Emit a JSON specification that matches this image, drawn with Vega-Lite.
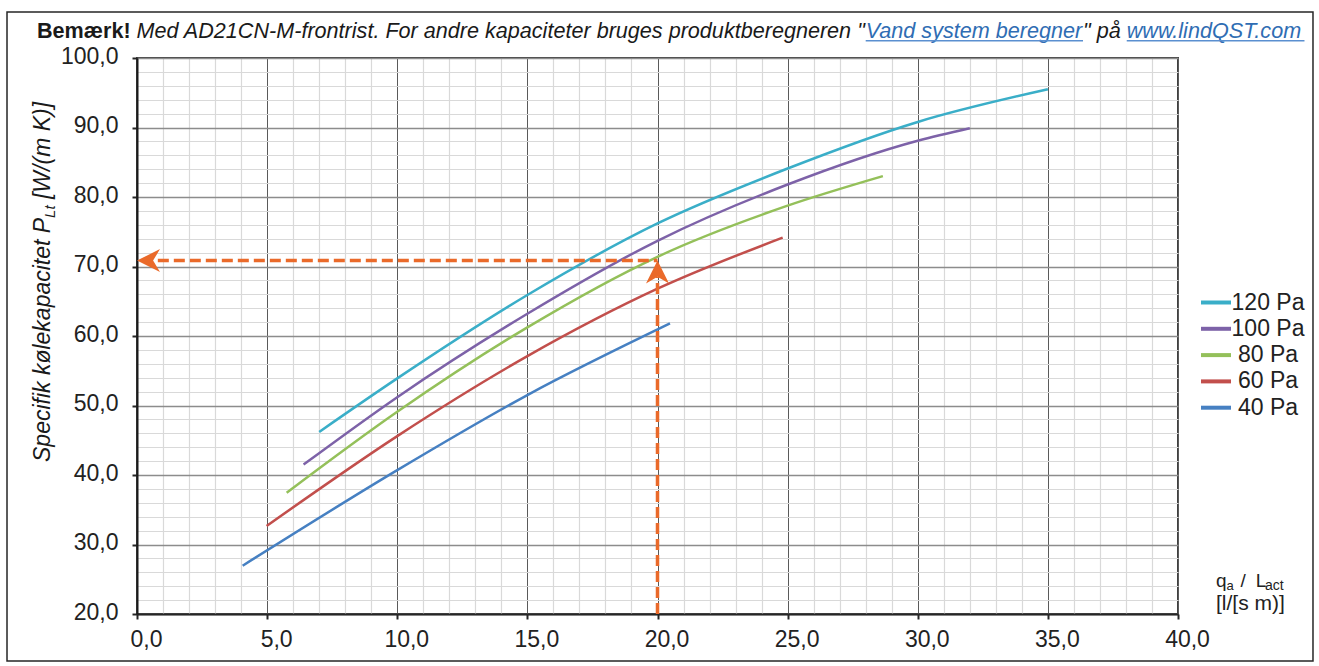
{
  "$schema": "https://vega.github.io/schema/vega-lite/v6.json",
  "width": 1041,
  "height": 556,
  "autosize": {"type": "none"},
  "padding": {"left": 137, "top": 58, "right": 141, "bottom": 52},
  "background": "white",
  "config": {
    "font": "Liberation Sans",
    "view": {"stroke": "#404040", "strokeWidth": 2}
  },
  "resolve": {"axis": {"x": "independent", "y": "independent"}},
  "datasets": {
    "one": [{}],
    "curves": [
      {"series": "120 Pa", "q": 7.0, "p": 46.2},
      {"series": "120 Pa", "q": 10, "p": 53.9},
      {"series": "120 Pa", "q": 15, "p": 65.9},
      {"series": "120 Pa", "q": 20, "p": 76.2},
      {"series": "120 Pa", "q": 25, "p": 84.1},
      {"series": "120 Pa", "q": 30, "p": 90.8},
      {"series": "120 Pa", "q": 35, "p": 95.5},
      {"series": "100 Pa", "q": 6.4, "p": 41.5},
      {"series": "100 Pa", "q": 10, "p": 51.2},
      {"series": "100 Pa", "q": 15, "p": 63.2},
      {"series": "100 Pa", "q": 20, "p": 73.7},
      {"series": "100 Pa", "q": 25, "p": 81.8},
      {"series": "100 Pa", "q": 30, "p": 88.1},
      {"series": "100 Pa", "q": 32, "p": 89.9},
      {"series": "80 Pa", "q": 5.75, "p": 37.45},
      {"series": "80 Pa", "q": 10, "p": 49.1},
      {"series": "80 Pa", "q": 15, "p": 61.25},
      {"series": "80 Pa", "q": 20, "p": 71.4},
      {"series": "80 Pa", "q": 25, "p": 78.75},
      {"series": "80 Pa", "q": 28.66, "p": 83.0},
      {"series": "60 Pa", "q": 4.98, "p": 32.66},
      {"series": "60 Pa", "q": 10, "p": 45.6},
      {"series": "60 Pa", "q": 15, "p": 57.1},
      {"series": "60 Pa", "q": 20, "p": 66.8},
      {"series": "60 Pa", "q": 24.81, "p": 74.15},
      {"series": "40 Pa", "q": 4.06, "p": 26.95},
      {"series": "40 Pa", "q": 10, "p": 40.7},
      {"series": "40 Pa", "q": 15, "p": 51.5},
      {"series": "40 Pa", "q": 20.48, "p": 61.8}
    ]
  },
  "layer": [
    {
      "data": {"name": "curves"},
      "mark": {"type": "line", "interpolate": "monotone", "strokeWidth": 2.5},
      "encoding": {
        "x": {
          "field": "q", "type": "quantitative",
          "scale": {"domain": [0, 40], "nice": false, "zero": false},
          "axis": {
            "title": null,
            "orient": "bottom",
            "values": [0,1,2,3,4,5,6,7,8,9,10,11,12,13,14,15,16,17,18,19,20,21,22,23,24,25,26,27,28,29,30,31,32,33,34,35,36,37,38,39,40],
            "grid": true,
            "gridColor": {"condition": {"test": "datum.value % 5 === 0", "value": "#5a5a5a"}, "value": "#d9d9d9"},
            "gridWidth": {"condition": {"test": "datum.value % 5 === 0", "value": 1}, "value": 1.2},
            "ticks": true,
            "tickSize": 5,
            "tickWidth": 2,
            "tickColor": "#262626",
            "tickOpacity": {"condition": {"test": "datum.value % 5 === 0", "value": 1}, "value": 0},
            "domainColor": "#262626",
            "domainWidth": 2,
            "labelExpr": "datum.value % 5 === 0 ? replace(format(datum.value, '.1f'), '.', ',') : ''",
            "labelFont": "Liberation Sans",
            "labelFontSize": 23,
            "labelColor": "#222222",
            "labelPadding": 9,
            "labelOffset": 9,
            "labelFlush": false,
            "labelOverlap": false
          }
        },
        "y": {
          "field": "p", "type": "quantitative",
          "scale": {"domain": [20, 100], "nice": false, "zero": false},
          "axis": {
            "title": null,
            "orient": "left",
            "values": [20,22,24,26,28,30,32,34,36,38,40,42,44,46,48,50,52,54,56,58,60,62,64,66,68,70,72,74,76,78,80,82,84,86,88,90,92,94,96,98,100],
            "grid": true,
            "gridColor": {"condition": {"test": "datum.value % 10 === 0", "value": "#8c8c8c"}, "value": "#d9d9d9"},
            "gridWidth": {"condition": {"test": "datum.value % 10 === 0", "value": 1.5}, "value": 1.2},
            "ticks": true,
            "tickSize": 5,
            "tickWidth": 2,
            "tickColor": "#262626",
            "tickOpacity": {"condition": {"test": "datum.value % 10 === 0", "value": 1}, "value": 0},
            "domainColor": "#1a1a1a",
            "domainWidth": 2,
            "labelExpr": "datum.value % 10 === 0 ? replace(format(datum.value, '.1f'), '.', ',') : ''",
            "labelFont": "Liberation Sans",
            "labelFontSize": 23,
            "labelColor": "#222222",
            "labelPadding": 14,
            "labelOffset": -2,
            "labelFlush": false,
            "labelOverlap": false
          }
        },
        "color": {
          "field": "series", "type": "nominal",
          "scale": {
            "domain": ["120 Pa", "100 Pa", "80 Pa", "60 Pa", "40 Pa"],
            "range": ["#3aaec8", "#7d62a8", "#94c05a", "#c24f4c", "#4680c2"]
          },
          "legend": {
            "title": null,
            "orient": "none",
            "legendX": 1067,
            "legendY": 232.5,
            "symbolType": "M-1.5,0L1.5,0",
            "symbolSize": 400,
            "symbolStrokeWidth": 4,
            "labelFont": "Liberation Sans",
            "labelFontSize": 23,
            "labelColor": "#222222",
            "labelAlign": "center",
            "labelOffset": 40,
            "rowPadding": 2.3
          }
        }
      }
    },
    {
      "data": {"name": "one"},
      "mark": {"type": "rect", "filled": false, "color": "#262626", "strokeWidth": 1.5},
      "encoding": {
        "x": {"datum": -4.995, "type": "quantitative", "axis": null},
        "x2": {"datum": 45.187},
        "y": {"datum": 106.62, "type": "quantitative", "axis": null},
        "y2": {"datum": 13.24}
      }
    },
    {
      "data": {"name": "one"},
      "mark": {"type": "rule", "color": "#ea6a2a", "strokeWidth": 3.5, "strokeDash": [11, 5]},
      "encoding": {
        "x": {"datum": 20, "type": "quantitative", "axis": null},
        "y": {"datum": 20, "type": "quantitative", "axis": null},
        "y2": {"datum": 68.5}
      }
    },
    {
      "data": {"name": "one"},
      "mark": {"type": "rule", "color": "#ea6a2a", "strokeWidth": 3.5, "strokeDash": [11, 5]},
      "encoding": {
        "x": {"datum": 0.8, "type": "quantitative", "axis": null},
        "x2": {"datum": 20},
        "y": {"datum": 70.85, "type": "quantitative", "axis": null}
      }
    },
    {
      "data": {"name": "one"},
      "mark": {"type": "point", "filled": true, "color": "#ea6a2a", "opacity": 1, "size": 529, "shape": "M0,0L1,2L0,1.4L-1,2Z", "strokeWidth": 0},
      "encoding": {
        "x": {"datum": 20, "type": "quantitative", "axis": null},
        "y": {"datum": 70.85, "type": "quantitative", "axis": null}
      }
    },
    {
      "data": {"name": "one"},
      "mark": {"type": "point", "filled": true, "color": "#ea6a2a", "opacity": 1, "size": 529, "shape": "M0,0L2,-1L1.4,0L2,1Z", "strokeWidth": 0},
      "encoding": {
        "x": {"datum": 0, "type": "quantitative", "axis": null},
        "y": {"datum": 70.85, "type": "quantitative", "axis": null}
      }
    },
    {
      "data": {"name": "one"},
      "mark": {"type": "text", "text": "Bemærk!", "font": "Liberation Sans", "fontSize": 21.6, "fontWeight": "bold", "align": "left", "baseline": "alphabetic", "color": "#1a1a1a"},
      "encoding": {
        "x": {"datum": -3.8425, "type": "quantitative", "axis": null},
        "y": {"datum": 102.88, "type": "quantitative", "axis": null}
      }
    },
    {
      "data": {"name": "one"},
      "mark": {"type": "text", "text": "Med AD21CN-M-frontrist. For andre kapaciteter bruges produktberegneren \"", "font": "Liberation Sans", "fontSize": 21.6, "fontStyle": "italic", "align": "left", "baseline": "alphabetic", "color": "#1a1a1a"},
      "encoding": {
        "x": {"datum": -0.015, "type": "quantitative", "axis": null},
        "y": {"datum": 102.88, "type": "quantitative", "axis": null}
      }
    },
    {
      "data": {"name": "one"},
      "mark": {"type": "text", "text": "Vand system beregner", "font": "Liberation Sans", "fontSize": 21.6, "fontStyle": "italic", "align": "left", "baseline": "alphabetic", "color": "#2f6db3"},
      "encoding": {
        "x": {"datum": 28.0, "type": "quantitative", "axis": null},
        "y": {"datum": 102.88, "type": "quantitative", "axis": null}
      }
    },
    {
      "data": {"name": "one"},
      "mark": {"type": "text", "text": "\" på", "font": "Liberation Sans", "fontSize": 21.6, "fontStyle": "italic", "align": "left", "baseline": "alphabetic", "color": "#1a1a1a"},
      "encoding": {
        "x": {"datum": 36.35, "type": "quantitative", "axis": null},
        "y": {"datum": 102.88, "type": "quantitative", "axis": null}
      }
    },
    {
      "data": {"name": "one"},
      "mark": {"type": "text", "text": "www.lindQST.com", "font": "Liberation Sans", "fontSize": 21.6, "fontStyle": "italic", "align": "left", "baseline": "alphabetic", "color": "#2f6db3"},
      "encoding": {
        "x": {"datum": 38.03, "type": "quantitative", "axis": null},
        "y": {"datum": 102.88, "type": "quantitative", "axis": null}
      }
    },
    {
      "data": {"name": "one"},
      "mark": {"type": "rule", "color": "#5a8fd0", "strokeWidth": 1.5},
      "encoding": {
        "x": {"datum": 28.0, "type": "quantitative", "axis": null},
        "x2": {"datum": 36.35},
        "y": {"datum": 102.5, "type": "quantitative", "axis": null}
      }
    },
    {
      "data": {"name": "one"},
      "mark": {"type": "rule", "color": "#5a8fd0", "strokeWidth": 1.5},
      "encoding": {
        "x": {"datum": 38.03, "type": "quantitative", "axis": null},
        "x2": {"datum": 44.86},
        "y": {"datum": 102.5, "type": "quantitative", "axis": null}
      }
    },
    {
      "data": {"name": "one"},
      "mark": {"type": "text", "text": "Specifik kølekapacitet P", "font": "Liberation Sans", "fontSize": 23, "fontStyle": "italic", "align": "left", "baseline": "alphabetic", "angle": 270, "color": "#1a1a1a"},
      "encoding": {
        "x": {"datum": -3.343, "type": "quantitative", "axis": null},
        "y": {"datum": 41.87, "type": "quantitative", "axis": null}
      }
    },
    {
      "data": {"name": "one"},
      "mark": {"type": "text", "text": "Lt", "font": "Liberation Sans", "fontSize": 15, "fontStyle": "italic", "align": "left", "baseline": "alphabetic", "angle": 270, "color": "#1a1a1a"},
      "encoding": {
        "x": {"datum": -3.151, "type": "quantitative", "axis": null},
        "y": {"datum": 76.99, "type": "quantitative", "axis": null}
      }
    },
    {
      "data": {"name": "one"},
      "mark": {"type": "text", "text": "[W/(m K)]", "font": "Liberation Sans", "fontSize": 23, "fontStyle": "italic", "align": "left", "baseline": "alphabetic", "angle": 270, "color": "#1a1a1a"},
      "encoding": {
        "x": {"datum": -3.343, "type": "quantitative", "axis": null},
        "y": {"datum": 79.71, "type": "quantitative", "axis": null}
      }
    },
    {
      "data": {"name": "one"},
      "mark": {"type": "text", "text": "q", "font": "Liberation Sans", "fontSize": 19, "align": "left", "baseline": "alphabetic", "color": "#222222"},
      "encoding": {
        "x": {"datum": 41.46, "type": "quantitative", "axis": null},
        "y": {"datum": 23.885, "type": "quantitative", "axis": null}
      }
    },
    {
      "data": {"name": "one"},
      "mark": {"type": "text", "text": "a", "font": "Liberation Sans", "fontSize": 13, "align": "left", "baseline": "alphabetic", "color": "#222222"},
      "encoding": {
        "x": {"datum": 41.86, "type": "quantitative", "axis": null},
        "y": {"datum": 23.45, "type": "quantitative", "axis": null}
      }
    },
    {
      "data": {"name": "one"},
      "mark": {"type": "text", "text": "/", "font": "Liberation Sans", "fontSize": 19, "align": "left", "baseline": "alphabetic", "color": "#222222"},
      "encoding": {
        "x": {"datum": 42.4, "type": "quantitative", "axis": null},
        "y": {"datum": 23.885, "type": "quantitative", "axis": null}
      }
    },
    {
      "data": {"name": "one"},
      "mark": {"type": "text", "text": "L", "font": "Liberation Sans", "fontSize": 19, "align": "left", "baseline": "alphabetic", "color": "#222222"},
      "encoding": {
        "x": {"datum": 42.99, "type": "quantitative", "axis": null},
        "y": {"datum": 23.885, "type": "quantitative", "axis": null}
      }
    },
    {
      "data": {"name": "one"},
      "mark": {"type": "text", "text": "act", "font": "Liberation Sans", "fontSize": 14, "align": "left", "baseline": "alphabetic", "color": "#222222"},
      "encoding": {
        "x": {"datum": 43.34, "type": "quantitative", "axis": null},
        "y": {"datum": 23.45, "type": "quantitative", "axis": null}
      }
    },
    {
      "data": {"name": "one"},
      "mark": {"type": "text", "text": "[l/[s m)]", "font": "Liberation Sans", "fontSize": 21, "align": "left", "baseline": "alphabetic", "color": "#222222"},
      "encoding": {
        "x": {"datum": 41.46, "type": "quantitative", "axis": null},
        "y": {"datum": 20.576, "type": "quantitative", "axis": null}
      }
    }
  ]
}
